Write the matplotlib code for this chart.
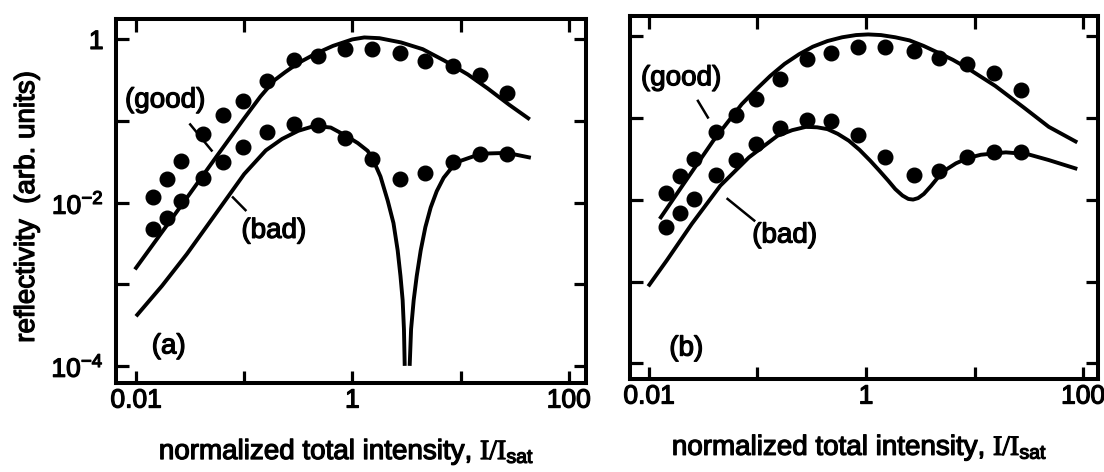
import numpy as np
import matplotlib
matplotlib.use("Agg")
import matplotlib.pyplot as plt
import matplotlib.patheffects as pe
from matplotlib.text import Text
from matplotlib.ticker import FixedLocator, FixedFormatter, NullLocator

plt.rcParams['font.family'] = ['Liberation Sans', 'DejaVu Sans']
plt.rcParams['mathtext.fontset'] = 'custom'
plt.rcParams['mathtext.rm'] = 'Liberation Serif'
plt.rcParams['mathtext.sf'] = 'Liberation Sans'
plt.rcParams['mathtext.it'] = 'Liberation Serif:italic'

# ---------------- data ----------------
# measured intensities (shared by both panels)
intensity_pts = [0.01445, 0.0195, 0.0260, 0.0412, 0.0631, 0.0977, 0.162, 0.288,
                 0.479, 0.851, 1.51, 2.75, 4.71, 8.51, 15.1, 26.8]

# panel (a)
a_good_pts = [0.01156, 0.01945, 0.0321, 0.0697, 0.1172, 0.1758, 0.3076, 0.553,
              0.622, 0.766, 0.766, 0.675, 0.537, 0.470, 0.369, 0.223]
a_bad_pts = [0.00472, 0.00656, 0.01054, 0.02004, 0.0312, 0.0478, 0.0743, 0.0931,
             0.0902, 0.0622, 0.0347, 0.01945, 0.02286, 0.0318, 0.0394, 0.0394]

a_good_curve_x = [0.00977, 0.01726, 0.02938, 0.0538, 0.0989, 0.1413, 0.1905, 0.2399,
                  0.316, 0.457, 0.661, 1.0, 1.29, 1.78, 2.82, 4.47, 7.08, 11.7, 17.8,
                  28.2, 43.7]
a_good_curve_y = [0.00152, 0.00430, 0.01135, 0.0347, 0.1057, 0.1995, 0.3162, 0.3981,
                  0.513, 0.668, 0.832, 1.0, 1.057, 1.035, 0.918, 0.759, 0.550, 0.3715,
                  0.251, 0.158, 0.1047]

a_bad_curve_x = [0.01, 0.01738, 0.02951, 0.0537, 0.1, 0.1585, 0.2239, 0.3162, 0.4467,
                 0.631, 0.871, 1.122, 1.387, 1.585, 1.820, 2.123, 2.399, 2.624, 2.786,
                 2.917, 2.999, 3.048, np.nan,
                 3.388, 3.491, 3.690, 3.936, 4.285, 4.732, 5.297, 6.026, 6.982, 8.318,
                 10.0, 15.49, 26.92, 44.67]
a_bad_curve_y = [0.000405, 0.000955, 0.002344, 0.00708, 0.02239, 0.04365, 0.06026,
                 0.07586, 0.0871, 0.0832, 0.0661, 0.0537, 0.04305, 0.03162, 0.02089,
                 0.01057, 0.005623, 0.0026, 0.001259, 0.000638, 0.000282, 0.0001, np.nan,
                 0.0001, 0.000282, 0.000638, 0.001259, 0.0026, 0.005012, 0.00871, 0.0138,
                 0.02018, 0.02692, 0.0325, 0.0398, 0.0407, 0.0355]

# panel (b)
b_good_pts = [0.0120, 0.01968, 0.0314, 0.0676, 0.1091, 0.169, 0.296, 0.520,
              0.627, 0.741, 0.741, 0.656, 0.545, 0.452, 0.357, 0.218]
b_bad_pts = [0.00462, 0.00685, 0.01023, 0.0203, 0.0305, 0.0479, 0.0750, 0.0940,
             0.0904, 0.0622, 0.0336, 0.0203, 0.0226, 0.0330, 0.0379, 0.0379]

b_good_curve_x = [0.01256, 0.02133, 0.0391, 0.0716, 0.0977, 0.1312, 0.1778, 0.241,
                  0.3236, 0.4416, 0.6026, 0.809, 1.047, 1.374, 1.862, 2.518, 3.388,
                  4.613, 6.31, 8.472, 15.52, 28.44, 48.31, 88.5]
b_good_curve_y = [0.00583, 0.01633, 0.0526, 0.1472, 0.2239, 0.326, 0.4571, 0.598,
                  0.7413, 0.869, 0.966, 1.028, 1.047, 1.028, 0.966, 0.885, 0.7586,
                  0.627, 0.5129, 0.411, 0.246, 0.134, 0.0778, 0.0502]

b_bad_curve_x = [0.00984, 0.01459, 0.02483, 0.0455, 0.0834, 0.1528, 0.2089, 0.280,
                 0.3548, 0.4416, 0.5495, 0.695, 0.871, 1.094, 1.318, 1.600, 1.862,
                 2.168, 2.455, 2.716, 3.02, 3.412, 3.981, 4.613, 5.495, 6.745, 8.71,
                 11.46, 19.45, 30.69, 48.31, 88.5]
b_bad_curve_y = [0.000875, 0.001816, 0.00508, 0.01489, 0.03296, 0.0605, 0.0708,
                 0.0778, 0.07674, 0.0729, 0.06383, 0.0526, 0.04074, 0.0300, 0.02291,
                 0.01714, 0.01349, 0.01125, 0.01023, 0.01005, 0.01047, 0.01178, 0.01479,
                 0.01879, 0.02344, 0.02786, 0.03236, 0.03548, 0.03793, 0.03614, 0.03055,
                 0.02377]

x_ticks = [0.01, 0.1, 1, 10, 100]
x_tick_labels = ['0.01', '', '1', '', '100']
y_ticks = [1e-4, 1e-3, 1e-2, 1e-1, 1]
y_tick_labels = [r'$\mathsf{10^{-4}}$', '', r'$\mathsf{10^{-2}}$', '', '1']

xlabel = r'normalized total intensity, $\mathrm{I/I}_{\mathsf{sat}}$'
ylabel = 'reflectivity  (arb. units)'

# ---------------- figure ----------------
W, H = 1104, 472
fig = plt.figure(figsize=(W / 100, H / 100), dpi=100)

def px_axes(x0, x1, ytop, ybot):
    return [x0 / W, 1 - ybot / H, (x1 - x0) / W, (ybot - ytop) / H]

axA = fig.add_axes(px_axes(116, 586, 19, 383))
axB = fig.add_axes(px_axes(630, 1098, 16, 379))

LW = 2.8
MS = 10.5

def style(ax, xlim, ylim, show_ylabels):
    ax.set_xscale('log')
    ax.set_yscale('log')
    ax.set_xlim(*xlim)
    ax.set_ylim(*ylim)
    for s in ax.spines.values():
        s.set_linewidth(2.9)
    ax.xaxis.set_major_locator(FixedLocator(x_ticks))
    ax.xaxis.set_major_formatter(FixedFormatter(x_tick_labels))
    ax.xaxis.set_minor_locator(NullLocator())
    ax.yaxis.set_major_locator(FixedLocator(y_ticks))
    ax.yaxis.set_minor_locator(NullLocator())
    if show_ylabels:
        ax.yaxis.set_major_formatter(FixedFormatter(y_tick_labels))
    else:
        ax.yaxis.set_major_formatter(FixedFormatter([''] * 5))
    ax.tick_params(which='major', direction='in', length=9, width=2.3,
                   top=True, right=True, labelsize=19, colors='black')
    ax.tick_params(axis='x', pad=4)
    ax.tick_params(axis='y', pad=9)

style(axA, (10 ** -2.185, 10 ** 2.16), (10 ** -4.21, 10 ** 0.25), True)
style(axB, (10 ** -2.175, 10 ** 2.138), (10 ** -4.19, 10 ** 0.245), False)

# panel (a)
axA.plot(a_good_curve_x, a_good_curve_y, color='black', lw=LW, solid_capstyle='butt')
axA.plot(a_bad_curve_x, a_bad_curve_y, color='black', lw=LW, solid_capstyle='butt')
axA.plot(intensity_pts, a_good_pts, 'o', color='black', ms=MS)
axA.plot(intensity_pts, a_bad_pts, 'o', color='black', ms=MS)
axA.text(0.0186, 0.179, '(good)', fontsize=20, ha='center', va='center')
axA.plot([0.0317, 0.050], [0.0908, 0.0435], color='black', lw=1.8)
axA.text(0.188, 0.00451, '(bad)', fontsize=20, ha='center', va='center')
axA.plot([0.0787, 0.1028], [0.01159, 0.00809], color='black', lw=1.8)
axA.text(0.0201, 0.000173, '(a)', fontsize=20, ha='center', va='center')

# panel (b)
axB.plot(b_good_curve_x, b_good_curve_y, color='black', lw=LW, solid_capstyle='butt')
axB.plot(b_bad_curve_x, b_bad_curve_y, color='black', lw=LW, solid_capstyle='butt')
axB.plot(intensity_pts, b_good_pts, 'o', color='black', ms=MS)
axB.plot(intensity_pts, b_bad_pts, 'o', color='black', ms=MS)
axB.text(0.01977, 0.305, '(good)', fontsize=20, ha='center', va='center')
axB.plot([0.02825, 0.0349], [0.1614, 0.1012], color='black', lw=1.8)
axB.text(0.178, 0.003656, '(bad)', fontsize=20, ha='center', va='center')
axB.plot([0.053, 0.0933], [0.01023, 0.00557], color='black', lw=1.8)
axB.text(0.0221, 0.000152, '(b)', fontsize=20, ha='center', va='center')

# axis labels
axA.text(0.49, -0.19, xlabel, transform=axA.transAxes, fontsize=20,
         ha='center', va='center')
axB.text(0.49, -0.19, xlabel, transform=axB.transAxes, fontsize=20,
         ha='center', va='center')
fig.text(27 / W, 1 - 207 / H, ylabel, rotation=90, fontsize=20,
         ha='center', va='center')

# heavier strokes for all text, mimicking the printed figure
for t in fig.findobj(Text):
    t.set_path_effects([pe.withStroke(linewidth=0.9, foreground='black')])

fig.savefig('out.png', dpi=100, facecolor='white')
